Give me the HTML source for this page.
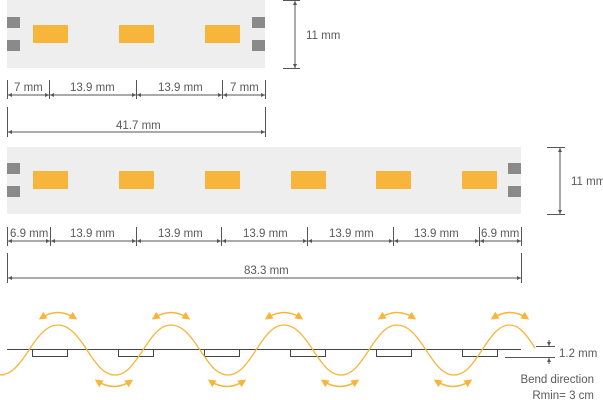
<!DOCTYPE html>
<html><head><meta charset="utf-8"><style>
html,body{margin:0;padding:0;background:#fff;}
svg{display:block;}
text{font-family:"Liberation Sans Narrow","Liberation Sans",sans-serif;font-size:11.5px;fill:#5a5a5a;}
</style></head><body>
<svg width="603" height="400" viewBox="0 0 603 400" xmlns="http://www.w3.org/2000/svg">
<defs>
<marker id="a" viewBox="0 0 6 6" refX="6" refY="3" markerWidth="4" markerHeight="4" orient="auto-start-reverse"><path d="M0,0 L6,3 L0,6 z" fill="#555"/></marker>
<marker id="o" viewBox="0 0 6 6" refX="4" refY="3" markerWidth="5" markerHeight="5" orient="auto-start-reverse"><path d="M0,0 L6,3 L0,6 z" fill="#f7b63b"/></marker>
</defs>
<rect x="7" y="0" width="258" height="68" fill="#eeeeee"/>
<g fill="#8a8a8a"><rect x="7" y="17" width="13" height="11"/><rect x="7" y="40" width="13" height="11"/><rect x="252" y="17" width="13" height="11"/><rect x="252" y="40" width="13" height="11"/></g>
<g fill="#f7b63b"><rect x="33" y="25" width="35" height="18"/><rect x="119" y="25" width="35" height="18"/><rect x="205" y="25" width="35" height="18"/></g>
<g stroke="#555" stroke-width="1" fill="none">
<line x1="283" y1="0.5" x2="300" y2="0.5"/><line x1="283" y1="68.5" x2="300" y2="68.5"/>
<line x1="295" y1="1" x2="295" y2="68" marker-start="url(#a)" marker-end="url(#a)"/>
<line x1="7.5" y1="80" x2="7.5" y2="99"/><line x1="49.5" y1="80" x2="49.5" y2="99"/><line x1="136.5" y1="80" x2="136.5" y2="99"/><line x1="222.5" y1="80" x2="222.5" y2="99"/><line x1="265.5" y1="80" x2="265.5" y2="99"/>
<line x1="8" y1="95" x2="49" y2="95" marker-start="url(#a)" marker-end="url(#a)"/>
<line x1="50" y1="95" x2="136" y2="95" marker-start="url(#a)" marker-end="url(#a)"/>
<line x1="137" y1="95" x2="222" y2="95" marker-start="url(#a)" marker-end="url(#a)"/>
<line x1="223" y1="95" x2="265" y2="95" marker-start="url(#a)" marker-end="url(#a)"/>
<line x1="7.5" y1="107" x2="7.5" y2="137"/><line x1="265.5" y1="107" x2="265.5" y2="137"/>
<line x1="8" y1="132" x2="265" y2="132" marker-start="url(#a)" marker-end="url(#a)"/>
</g>
<text x="306" y="39">11 mm</text>
<text x="14" y="91">7 mm</text><text x="70" y="91">13.9 mm</text><text x="158" y="91">13.9 mm</text><text x="230" y="91">7 mm</text>
<text x="116" y="129">41.7 mm</text>
<rect x="7" y="147" width="514" height="67" fill="#eeeeee"/>
<g fill="#8a8a8a"><rect x="7" y="163" width="13" height="11"/><rect x="7" y="186" width="13" height="11"/><rect x="508" y="163" width="13" height="11"/><rect x="508" y="186" width="13" height="11"/></g>
<g fill="#f7b63b"><rect x="33" y="171" width="35" height="18"/><rect x="119" y="171" width="35" height="18"/><rect x="205" y="171" width="35" height="18"/><rect x="291" y="171" width="35" height="18"/><rect x="376" y="171" width="35" height="18"/><rect x="462" y="171" width="35" height="18"/></g>
<g stroke="#555" stroke-width="1" fill="none">
<line x1="547" y1="147.5" x2="565" y2="147.5"/><line x1="547" y1="214.5" x2="565" y2="214.5"/>
<line x1="560" y1="148" x2="560" y2="214" marker-start="url(#a)" marker-end="url(#a)"/>
<line x1="7.5" y1="227" x2="7.5" y2="246"/><line x1="50.5" y1="227" x2="50.5" y2="246"/><line x1="136.5" y1="227" x2="136.5" y2="246"/><line x1="221.5" y1="227" x2="221.5" y2="246"/><line x1="307.5" y1="227" x2="307.5" y2="246"/><line x1="393.5" y1="227" x2="393.5" y2="246"/><line x1="479.5" y1="227" x2="479.5" y2="246"/><line x1="521.5" y1="227" x2="521.5" y2="246"/>
<line x1="8" y1="241" x2="50" y2="241" marker-start="url(#a)" marker-end="url(#a)"/>
<line x1="51" y1="241" x2="136" y2="241" marker-start="url(#a)" marker-end="url(#a)"/>
<line x1="137" y1="241" x2="221" y2="241" marker-start="url(#a)" marker-end="url(#a)"/>
<line x1="222" y1="241" x2="307" y2="241" marker-start="url(#a)" marker-end="url(#a)"/>
<line x1="308" y1="241" x2="393" y2="241" marker-start="url(#a)" marker-end="url(#a)"/>
<line x1="394" y1="241" x2="479" y2="241" marker-start="url(#a)" marker-end="url(#a)"/>
<line x1="480" y1="241" x2="521" y2="241" marker-start="url(#a)" marker-end="url(#a)"/>
<line x1="7.5" y1="253" x2="7.5" y2="283"/><line x1="521.5" y1="253" x2="521.5" y2="283"/>
<line x1="8" y1="278" x2="521" y2="278" marker-start="url(#a)" marker-end="url(#a)"/>
</g>
<text x="571" y="185">11 mm</text>
<text x="10" y="237">6.9 mm</text><text x="70" y="237">13.9 mm</text><text x="158" y="237">13.9 mm</text><text x="243" y="237">13.9 mm</text><text x="329" y="237">13.9 mm</text><text x="414" y="237">13.9 mm</text><text x="481" y="237">6.9 mm</text>
<text x="244" y="274">83.3 mm</text>
<line x1="7" y1="349.5" x2="521" y2="349.5" stroke="#444" stroke-width="1"/>
<g fill="#fff" stroke="#444" stroke-width="1"><rect x="32.5" y="349.5" width="35" height="7"/><rect x="118.5" y="349.5" width="35" height="7"/><rect x="204.5" y="349.5" width="35" height="7"/><rect x="290.5" y="349.5" width="35" height="7"/><rect x="376.5" y="349.5" width="35" height="7"/><rect x="462.5" y="349.5" width="35" height="7"/></g>
<path fill="none" stroke="#f7b63b" stroke-width="1.3" d="M0,375 C10,375 18,367 29,350 C40,333 48,325 58,325 C68,325 76,333 87,350 C98,367 105,375 115,375 C125,375 132,367 143,350 C154,333 161,325 171,325 C181,325 189,333 200,350 C211,367 218,375 228,375 C238,375 245,367 256,350 C267,333 274,325 284,325 C294,325 302,333 313,350 C324,367 331,375 341,375 C351,375 358,367 369,350 C380,333 387,325 397,325 C407,325 415,333 426,350 C437,367 444,375 454,375 C464,375 471,367 482,350 C493,333 500,325 510,325 C520,325 528,337 535,348"/>
<g fill="none" stroke="#f7b63b" stroke-width="1.6" marker-start="url(#o)" marker-end="url(#o)">
<path d="M41,318 Q58,307 75,318"/><path d="M154,318 Q171,307 188,318"/><path d="M267,318 Q284,307 301,318"/><path d="M380,318 Q397,307 414,318"/><path d="M493,318 Q510,307 527,318"/>
<path d="M97,381 Q114,392 131,381"/><path d="M210,381 Q227,392 244,381"/><path d="M323,381 Q340,392 357,381"/><path d="M436,381 Q453,392 470,381"/>
</g>
<g stroke="#555" stroke-width="1">
<line x1="536" y1="346.5" x2="555" y2="346.5"/><line x1="505" y1="357.5" x2="555" y2="357.5"/>
<line x1="549" y1="340" x2="549" y2="346" marker-end="url(#a)"/><line x1="549" y1="364" x2="549" y2="358" marker-end="url(#a)"/>
</g>
<text x="559" y="357">1.2 mm</text>
<text x="594" y="383" text-anchor="end">Bend direction</text>
<text x="594" y="399" text-anchor="end">Rmin= 3 cm</text>
</svg>
</body></html>
